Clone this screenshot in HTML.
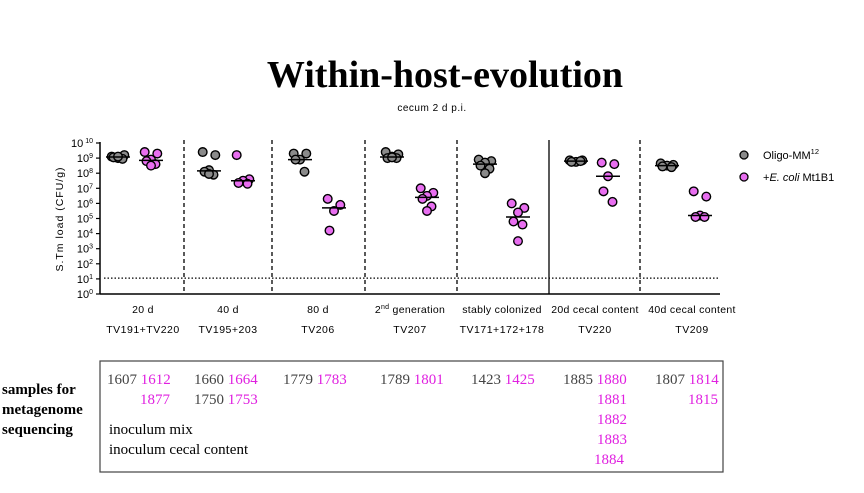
<!DOCTYPE html>
<html><head><meta charset="utf-8"><style>
html,body{margin:0;padding:0;background:#fff;}
svg{display:block;}
</style></head><body>
<svg id="chart" width="864" height="493" viewBox="0 0 864 493" xmlns="http://www.w3.org/2000/svg">
<text x="445" y="87" text-anchor="middle" font-family="Liberation Serif, serif" font-weight="bold" font-size="38">Within-host-evolution</text>
<text x="432" y="111" text-anchor="middle" font-family="Liberation Sans, sans-serif" font-size="10" letter-spacing="0.5">cecum 2 d p.i.</text>
<g id="plot"></g>
<text transform="translate(63,219) rotate(-90)" text-anchor="middle" font-family="Liberation Sans, sans-serif" font-size="10.5" letter-spacing="1">S.Tm load (CFU/g)</text>
<g font-family="Liberation Sans, sans-serif" font-size="11">
  <circle cx="744" cy="155" r="4" fill="#8a8a8a" stroke="#000" stroke-width="1.3"/>
  <text x="763" y="159">Oligo-MM<tspan font-size="7.5" dy="-5">12</tspan></text>
  <circle cx="744" cy="177" r="4" fill="#e86ef0" stroke="#000" stroke-width="1.3"/>
  <text x="763" y="181">+<tspan font-style="italic">E. coli</tspan> Mt1B1</text>
</g>
<g font-family="Liberation Serif, serif" font-size="15">
  <text x="2" y="394" font-weight="bold">samples for</text>
  <text x="2" y="414" font-weight="bold">metagenome</text>
  <text x="2" y="434" font-weight="bold">sequencing</text>
  <rect x="100" y="361" width="623" height="111" fill="none" stroke="#444" stroke-width="1.2"/>
  <g fill="#444">
    <text x="107" y="384">1607 <tspan fill="#e020e0">1612</tspan></text>
    <text x="140" y="404" fill="#e020e0">1877</text>
    <text x="194" y="384">1660 <tspan fill="#e020e0">1664</tspan></text>
    <text x="194" y="404">1750 <tspan fill="#e020e0">1753</tspan></text>
    <text x="283" y="384">1779 <tspan fill="#e020e0">1783</tspan></text>
    <text x="380" y="384">1789 <tspan fill="#e020e0">1801</tspan></text>
    <text x="471" y="384">1423 <tspan fill="#e020e0">1425</tspan></text>
    <text x="563" y="384">1885 <tspan fill="#e020e0">1880</tspan></text>
    <text x="597" y="404" fill="#e020e0">1881</text>
    <text x="597" y="424" fill="#e020e0">1882</text>
    <text x="597" y="444" fill="#e020e0">1883</text>
    <text x="594" y="464" fill="#e020e0">1884</text>
    <text x="655" y="384">1807 <tspan fill="#e020e0">1814</tspan></text>
    <text x="688" y="404" fill="#e020e0">1815</text>
  </g>
  <text x="109" y="434" fill="#000">inoculum mix</text>
  <text x="109" y="454" fill="#000">inoculum cecal content</text>
</g>
</svg>
<script>
const groupLabels = ["20 d","40 d","80 d","2nd generation","stably colonized","20d cecal content","40d cecal content"];
const groupIds = ["TV191+TV220","TV195+203","TV206","TV207","TV171+172+178","TV220","TV209"];
const oligoValues = [
  [9.1,9.2,9.0,9.05,8.95,9.1],
  [9.4,9.2,8.2,8.1,7.9,7.95],
  [9.3,9.3,8.9,8.9,8.1],
  [9.4,9.25,9.1,9.0,9.0,9.05],
  [8.9,8.8,8.7,8.5,8.3,8.0],
  [8.85,8.85,8.75,8.75,8.8],
  [8.65,8.55,8.5,8.45,8.4]
];
const ecoliValues = [
  [9.4,9.3,8.9,8.8,8.6,8.5],
  [9.2,7.6,7.5,7.35,7.3],
  [6.3,5.9,5.5,4.2],
  [7.0,6.7,6.5,6.3,5.8,5.5],
  [6.0,5.7,5.4,4.8,4.6,3.5],
  [8.7,8.6,7.8,6.8,6.1],
  [6.8,6.45,5.2,5.1,5.1]
];
const yTicks = [0,1,2,3,4,5,6,7,8,9,10];
const lodValue = 1.05;
const dividerSolid = [false,false,false,false,true,false];

const NS="http://www.w3.org/2000/svg";
const plot=document.getElementById('plot');
const X0=100, X1=720, Y0=294, Y10=143;
const groupEdges=[100,184,272,365,457,549,640,720];
const labelX=[143,228,318,410,502,595,692];
const oligoX=[118,209,300,392,485,576,667];
const ecoliX=[151,243,334,427,518,608,700];
const yScale=v=>Y0-(Y0-Y10)*v/10;
function mk(tag,attrs,parent){const e=document.createElementNS(NS,tag);for(const k in attrs)e.setAttribute(k,attrs[k]);(parent||plot).appendChild(e);return e;}
function median(a){const s=[...a].sort((p,q)=>p-q);const n=s.length;return n%2?s[(n-1)/2]:(s[n/2-1]+s[n/2])/2;}

let ax=mk('line',{x1:X0,y1:Y10-1,x2:X0,y2:Y0,stroke:'#000','stroke-width':1.5});


let bx=mk('line',{x1:X0,y1:Y0,x2:X1,y2:Y0,stroke:'#000','stroke-width':1.5});


yTicks.forEach(t=>{
  const y=yScale(t);
  const tk=mk('line',{x1:X0-4,y1:y,x2:X0,y2:y,stroke:'#000','stroke-width':1.2});
  
  
  const tx=mk('text',{x:X0-7,y:y+4,'text-anchor':'end','font-family':'Liberation Sans, sans-serif','font-size':11});
  
  
  tx.innerHTML='10<tspan font-size="7" dy="-4">'+(t===10?' 10':t)+'</tspan>';
});
const lod=mk('line',{x1:X0+4,y1:yScale(lodValue),x2:X1-2,y2:yScale(lodValue),stroke:'#000','stroke-width':1.3,'stroke-dasharray':'1.5,2'});


for(let i=1;i<groupLabels.length;i++){
  const d=mk('line',{x1:groupEdges[i],y1:Y10-3,x2:groupEdges[i],y2:Y0,stroke:'#000','stroke-width':1.3});
  if(!dividerSolid[i-1]) d.setAttribute('stroke-dasharray','4,3');
  
  
}
groupLabels.forEach((lab,i)=>{
  const cx=labelX[i];
  const t1=mk('text',{x:cx,y:313,'text-anchor':'middle','font-family':'Liberation Sans, sans-serif','font-size':10.5,'letter-spacing':'0.3'});
  
  
  if(lab==='2nd generation') t1.innerHTML='2<tspan font-size="7" dy="-4">nd</tspan><tspan dy="4"> generation</tspan>';
  else t1.textContent=lab;
  const t2=mk('text',{x:cx,y:333,'text-anchor':'middle','font-family':'Liberation Sans, sans-serif','font-size':10.5,'letter-spacing':'0.5'});
  
  
  t2.textContent=groupIds[i];
  [[oligoValues[i],oligoX[i],'#8a8a8a','oligo'],[ecoliValues[i],ecoliX[i],'#e86ef0','ecoli']].forEach(([vals,px,col,nm])=>{
    const offs=[-7,7,0,-5,5,0];
    vals.forEach((v,j)=>{
      const c=mk('circle',{cx:px+offs[j%offs.length]*0.9,cy:yScale(v),r:4.3,fill:col,stroke:'#000','stroke-width':1.4});
      
      
    });
    const m=median(vals);
    const ml=mk('line',{x1:px-12,y1:yScale(m),x2:px+12,y2:yScale(m),stroke:'#000','stroke-width':1.5});
    
    
  });
});
</script>
</body></html>
